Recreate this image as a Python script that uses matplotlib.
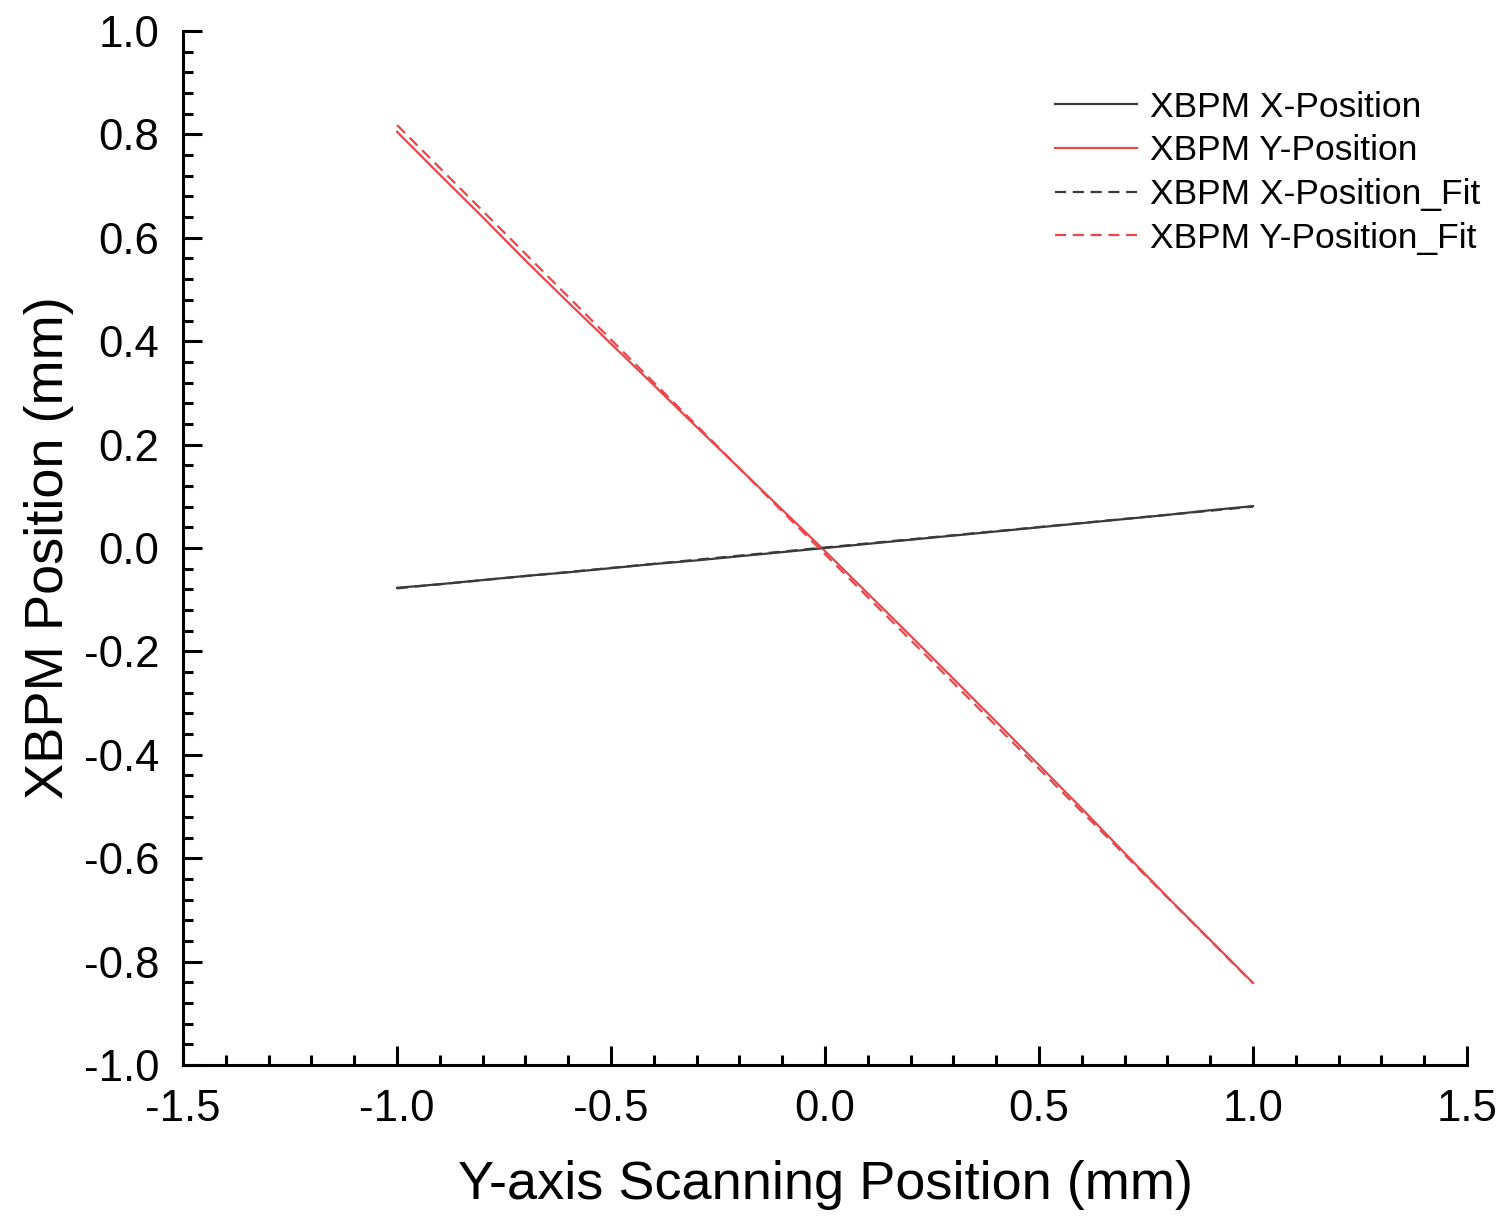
import matplotlib
matplotlib.use("Agg")
import matplotlib.pyplot as plt
from matplotlib.ticker import MultipleLocator
import numpy as np

plt.rcParams['font.family'] = ['Liberation Sans', 'DejaVu Sans']

# scanning positions (mm)
scan_pos = [-1.0, -0.9, -0.8, -0.7, -0.6, -0.5, -0.4, -0.3, -0.2, -0.1, 0.0,
            0.1, 0.2, 0.3, 0.4, 0.5, 0.6, 0.7, 0.8, 0.9, 1.0]

# measured XBPM positions (mm)
xbpm_x = [-0.077, -0.070, -0.062, -0.054, -0.047, -0.039, -0.031, -0.024, -0.016, -0.008, 0.000,
          0.008, 0.016, 0.024, 0.032, 0.040, 0.048, 0.056, 0.064, 0.073, 0.081]
xbpm_y = [0.805, 0.722, 0.640, 0.556, 0.475, 0.395, 0.315, 0.234, 0.154, 0.074, -0.006,
          -0.088, -0.170, -0.253, -0.336, -0.420, -0.504, -0.590, -0.675, -0.758, -0.841]

# linear fits (slope, intercept)
fit_x = (0.079, 0.001)
fit_y = (-0.830, -0.012)

black = '#3a3a3a'
red = '#e8474c'

fig = plt.figure(figsize=(15.08, 12.19), dpi=100)
ax = fig.add_axes([0.1214, 0.1263, 0.8514, 0.8483])

xs = np.array(scan_pos)
ax.plot(xs, xbpm_x, color=black, lw=1.6, label='XBPM X-Position')
ax.plot(xs, xbpm_y, color=red, lw=1.6, label='XBPM Y-Position')
ax.plot(xs, fit_x[0] * xs + fit_x[1], color=black, lw=1.6, ls=(0, (5, 3)), label='XBPM X-Position_Fit')
ax.plot(xs, fit_y[0] * xs + fit_y[1], color=red, lw=1.6, ls=(0, (5, 3)), label='XBPM Y-Position_Fit')

ax.set_xlim(-1.5, 1.5)
ax.set_ylim(-1.0, 1.0)
ax.xaxis.set_major_locator(MultipleLocator(0.5))
ax.xaxis.set_minor_locator(MultipleLocator(0.1))
ax.yaxis.set_major_locator(MultipleLocator(0.2))
ax.yaxis.set_minor_locator(MultipleLocator(0.04))

for s in ['top', 'right']:
    ax.spines[s].set_visible(False)
for s in ['left', 'bottom']:
    ax.spines[s].set_linewidth(2.2)

ax.tick_params(which='major', direction='in', length=14, width=2.2, labelsize=31.5, pad=17)
ax.tick_params(which='minor', direction='in', length=7, width=2.2)
ax.xaxis.set_major_formatter(plt.FuncFormatter(lambda v, p: f'{v:.1f}'))
ax.yaxis.set_major_formatter(plt.FuncFormatter(lambda v, p: f'{v:.1f}'))

ax.set_xlabel('Y-axis Scanning Position (mm)', fontsize=39, labelpad=22)
ax.set_ylabel('XBPM Position (mm)', fontsize=39, labelpad=7)

ax.legend(loc='upper right', bbox_to_anchor=(1.035, 0.973), frameon=False, fontsize=25.5,
          handlelength=2.3, handletextpad=0.37, labelspacing=0.3)

fig.savefig('out.png', dpi=100)
